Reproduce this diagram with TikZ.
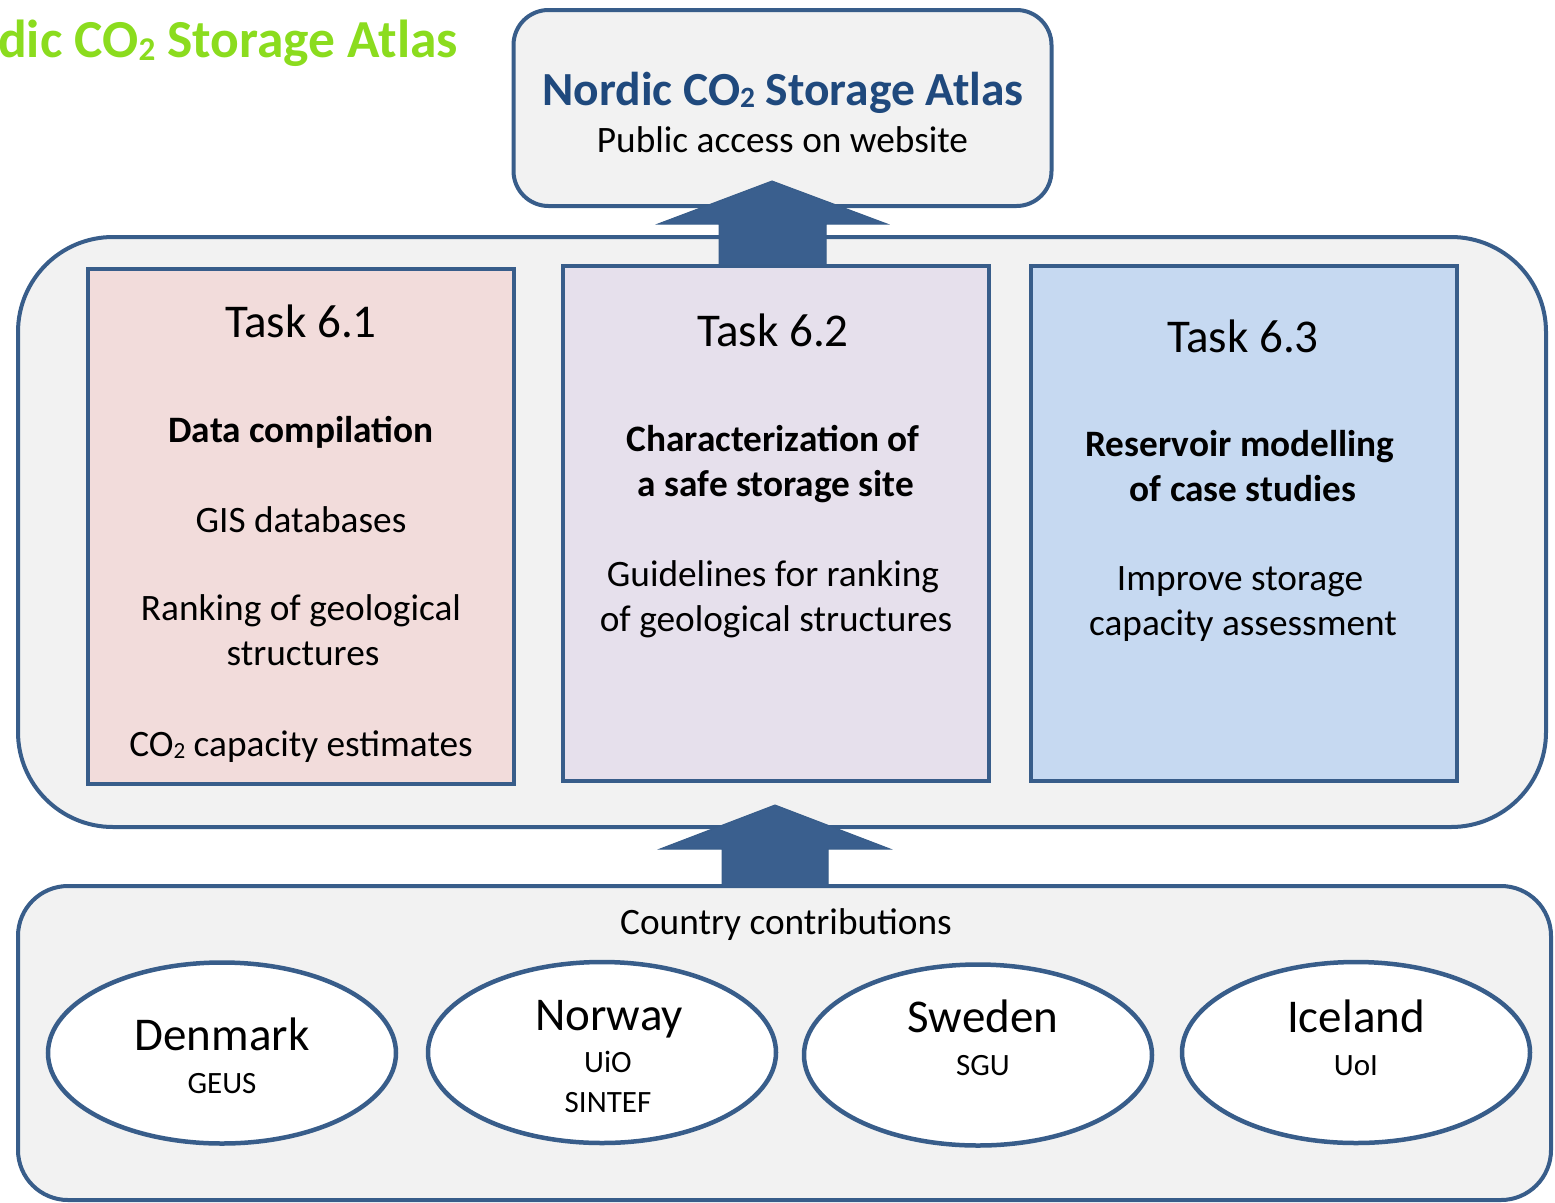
\documentclass[tikz,border=0pt]{standalone}
\usepackage{fontspec}
\setmainfont{Carlito}
\usepackage{graphicx}
\usetikzlibrary{shapes.geometric}
\definecolor{edge}{HTML}{385D8A}
\definecolor{arrowc}{HTML}{3A5F8E}
\definecolor{titleblue}{HTML}{1F497D}
\definecolor{atlasgreen}{HTML}{8BDC1E}
\definecolor{panel}{HTML}{F2F2F2}
\definecolor{pinkc}{HTML}{F2DCDB}
\definecolor{lilac}{HTML}{E6E0EC}
\definecolor{lightblue}{HTML}{C6D9F1}
\newcommand\subtwo{\raisebox{-0.06em}{\scalebox{0.62}{2}}}
\begin{document}
\begin{tikzpicture}[x=1pt,y=-1pt,
 panelbox/.style={draw=edge, line width=4pt, fill=panel, inner sep=0pt},
 taskbox/.style={draw=edge, line width=4pt, inner sep=0pt, minimum width=426, minimum height=515},
 country/.style={ellipse, draw=edge, line width=4.5pt, fill=white, minimum width=348, minimum height=181, inner sep=0pt},
 big/.style={font=\fontsize{47}{50}\selectfont, inner sep=0pt, anchor=base},
 body/.style={font=\fontsize{37.3}{45}\selectfont, inner sep=0pt, anchor=base},
 bodyb/.style={font=\fontsize{37.3}{45}\selectfont\bfseries, inner sep=0pt, anchor=base},
 small/.style={font=\fontsize{31}{36}\selectfont, inner sep=0pt, anchor=base},
 blockarrow/.style={fill=arrowc, draw=edge, line width=1pt, line join=miter}
]
\useasboundingbox (0,0) rectangle (1555,1202);
\clip (0,0) rectangle (1555,1202);

% green title
\node[font=\fontsize{53.5}{60}\selectfont\bfseries, text=atlasgreen, anchor=base west, inner sep=0pt] (ghost) at (-2,57) {dic CO\subtwo{} Storage Atlas};

% panels
\node[panelbox, rounded corners=35, minimum width=538, minimum height=196] (atlas) at (782.5,108) {};
\node[panelbox, rounded corners=95, minimum width=1528, minimum height=590] (tasks) at (782,532) {};
\node[panelbox, rounded corners=50, minimum width=1533, minimum height=314] (countries) at (784.5,1043) {};

% task boxes
\node[taskbox, fill=pinkc] (t1) at (301,526.5) {};
\node[taskbox, fill=lilac] (t2) at (776,523.5) {};
\node[taskbox, fill=lightblue] (t3) at (1243.5,523.5) {};

% block arrows
\filldraw[blockarrow] (719,265) -- (719,224) -- (658,224) -- (772,181) -- (887,224) -- (826,224) -- (826,265) -- cycle;
\filldraw[blockarrow] (722,887) -- (722,849) -- (660,849) -- (775,805) -- (890,849) -- (828,849) -- (828,887) -- cycle;

% top box texts
\node[font=\fontsize{47.5}{50}\selectfont\bfseries, text=titleblue, inner sep=0pt, anchor=base] (atlastitle) at (783,105) {Nordic CO\subtwo{} Storage Atlas};
\node[font=\fontsize{37.3}{42}\selectfont, inner sep=0pt, anchor=base] (atlassub) at (782.5,152) {Public access on website};

% task 6.1
\node[big] (t1a) at (301,337) {Task 6.1};
\node[bodyb] (t1b) at (301,442) {Data compilation};
\node[body] (t1c) at (301,532) {GIS databases};
\node[body] (t1d) at (301,620) {Ranking of geological};
\node[body] (t1e) at (303,665) {structures};
\node[body] (t1f) at (301,756) {CO\subtwo{} capacity estimates};

% task 6.2
\node[big] (t2a) at (773,346) {Task 6.2};
\node[bodyb] (t2b) at (773,451) {Characterization of};
\node[bodyb] (t2c) at (776,496) {a safe storage site};
\node[body] (t2d) at (773,586) {Guidelines for ranking};
\node[body] (t2e) at (776,631) {of geological structures};

% task 6.3
\node[big] (t3a) at (1243,352) {Task 6.3};
\node[bodyb] (t3b) at (1240,456) {Reservoir modelling};
\node[bodyb] (t3c) at (1243,501) {of case studies};
\node[body] (t3d) at (1240,590) {Improve storage};
\node[body] (t3e) at (1243,635) {capacity assessment};

% countries
\node[body] (cc) at (786,934) {Country contributions};
\node[country] (dk) at (222,1053) {};
\node[country] (no) at (602,1052.5) {};
\node[country] (se) at (978,1055) {};
\node[country] (is) at (1356,1052.5) {};

\node[big] (dka) at (222,1050) {Denmark};
\node[small] (dkb) at (222,1093) {GEUS};
\node[big] (noa) at (609,1030) {Norway};
\node[small] (nob) at (608,1072) {UiO};
\node[small] (noc) at (608,1112) {SINTEF};
\node[big] (sea) at (983,1032) {Sweden};
\node[small] (seb) at (983,1075) {SGU};
\node[big] (isa) at (1356,1032) {Iceland};
\node[small] (isb) at (1356,1075) {UoI};
\end{tikzpicture}
\end{document}
